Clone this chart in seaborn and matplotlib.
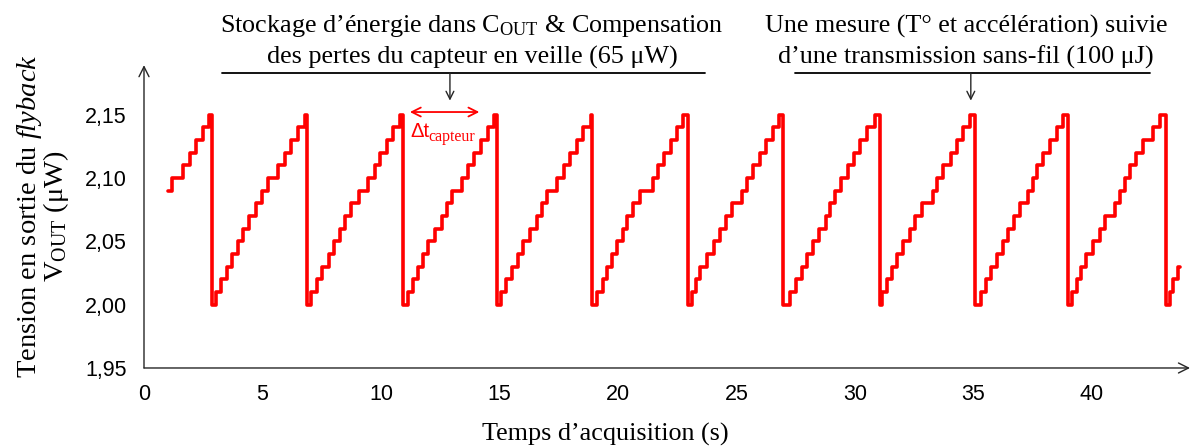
import matplotlib
matplotlib.use("Agg")
import matplotlib.pyplot as plt
import numpy as np
import pandas as pd
import seaborn as sns

# step levels of the flyback output voltage (V)
levels = [2.00, 2.01, 2.02, 2.03, 2.04, 2.05, 2.06, 2.07,
          2.08, 2.09, 2.10, 2.11, 2.12, 2.13, 2.14, 2.15]

# first (partial) ramp: starts at 2,09
start_time = 1.03
start_level = 2.09
first_rises = [1.20, 1.66, 1.94, 2.19, 2.50, 2.76]  # -> 2,10 ... 2,15

# times where the capacitor is emptied (back to 2,00)
drop_times = [2.86, 6.86, 10.93, 14.91, 18.92, 22.94, 26.98, 31.05, 35.06, 39.00, 43.12]

# times of each step up to 2,01 ... 2,15 after each drop
rise_times = [
    [3.04, 3.25, 3.52, 3.71, 3.95, 4.19, 4.44, 4.71, 4.98, 5.23, 5.64, 5.94, 6.19, 6.48, 6.78],
    [7.03, 7.29, 7.52, 7.80, 8.02, 8.27, 8.50, 8.73, 9.06, 9.44, 9.75, 9.96, 10.24, 10.52, 10.80],
    [11.15, 11.34, 11.58, 11.79, 11.99, 12.28, 12.56, 12.77, 12.98, 13.40, 13.69, 13.92, 14.21, 14.53, 14.78],
    [15.05, 15.26, 15.51, 15.80, 16.01, 16.29, 16.57, 16.78, 17.02, 17.41, 17.72, 17.98, 18.26, 18.54, 18.85],
    [19.13, 19.36, 19.53, 19.73, 19.95, 20.22, 20.39, 20.65, 20.93, 21.49, 21.70, 21.94, 22.23, 22.48, 22.73],
    [23.11, 23.29, 23.46, 23.74, 24.05, 24.30, 24.58, 24.80, 25.22, 25.46, 25.71, 25.99, 26.24, 26.53, 26.81],
    [27.26, 27.51, 27.75, 27.99, 28.24, 28.49, 28.78, 28.95, 29.16, 29.40, 29.72, 29.96, 30.21, 30.52, 30.84],
    [31.13, 31.34, 31.55, 31.76, 32.04, 32.32, 32.53, 32.85, 33.28, 33.47, 33.73, 34.04, 34.29, 34.54, 34.85],
    [35.30, 35.52, 35.75, 36.00, 36.25, 36.48, 36.70, 36.95, 37.30, 37.50, 37.70, 37.95, 38.23, 38.51, 38.80],
    [39.14, 39.35, 39.56, 39.77, 40.06, 40.34, 40.55, 40.97, 41.18, 41.39, 41.60, 41.88, 42.17, 42.59, 42.87],
    [43.29, 43.43, 43.64],
]
end_time = 43.71

xticks = [0, 5, 10, 15, 20, 25, 30, 35, 40]
yticks = [1.95, 2.00, 2.05, 2.10, 2.15]
ytick_labels = ["1,95", "2,00", "2,05", "2,10", "2,15"]

# build the staircase as (time, value) breakpoints
t = [start_time] + first_rises
v = [start_level] + levels[10:]
for drop, rises in zip(drop_times, rise_times):
    t += [drop] + rises
    v += levels[:len(rises) + 1]
t.append(end_time)
v.append(v[-1])
df = pd.DataFrame({"t": t, "v": v})

sns.set_theme(style="white")
plt.rcParams["font.family"] = ["Liberation Sans", "DejaVu Sans"]
plt.rcParams["mathtext.fontset"] = "custom"
plt.rcParams["mathtext.rm"] = "Liberation Serif"
plt.rcParams["mathtext.it"] = "Liberation Serif:italic"
serif = ["Liberation Serif", "DejaVu Serif"]
ink = "#262626"

fig = plt.figure(figsize=(11.96, 4.48), dpi=100)
ax = fig.add_axes([0.1204, 0.1786, 0.8746, 0.676])

sns.lineplot(data=df, x="t", y="v", ax=ax, drawstyle="steps-post",
             estimator=None, sort=False, color="#FF0000", lw=2.6)

ax.set_xlim(0, 44.14)
ax.set_ylim(1.95, 2.189)
ax.set_xticks(xticks)
ax.set_xticklabels([str(x) for x in xticks])
ax.set_yticks(yticks)
ax.set_yticklabels(ytick_labels)
ax.tick_params(axis="both", direction="inout", length=7, width=1, color="#555555",
               labelsize=15.5, labelcolor="black")
ax.tick_params(axis="y", pad=9)
ax.tick_params(axis="x", pad=8)
for s in ax.spines.values():
    s.set_visible(False)

# axes with open arrow heads
ax.annotate("", xy=(1, 0), xytext=(0, 0), xycoords="axes fraction",
            arrowprops=dict(arrowstyle="->", color=ink, lw=1, mutation_scale=18,
                            shrinkA=0, shrinkB=0))
ax.annotate("", xy=(0, 1), xytext=(0, 0), xycoords="axes fraction",
            arrowprops=dict(arrowstyle="->", color=ink, lw=1, mutation_scale=18,
                            shrinkA=0, shrinkB=0))

ax.set_xlabel("Temps d’acquisition (s)", family=serif, fontsize=18.8, color="black")
ax.xaxis.set_label_coords(0.4408, -0.182)
ax.set_ylabel("Tension en sortie du $\\it{flyback}$\nV$_{\\mathrm{OUT}}$ (μW)",
              family=serif, fontsize=20.5, color="black", labelpad=10, linespacing=0.85)

# annotations above the curve
ax.text(13.84, 2.186, "Stockage d’énergie dans C$_{\\mathrm{OUT}}$ & Compensation\n"
        "des pertes du capteur en veille (65 μW)",
        family=serif, fontsize=18.8, ha="center", va="bottom", color="black",
        linespacing=1.4, clip_on=False)
ax.plot([3.29, 23.67], [2.1828, 2.1828], color="black", lw=1.3, clip_on=False)
ax.annotate("", xy=(12.91, 2.161), xytext=(12.91, 2.1828),
            arrowprops=dict(arrowstyle="->", color=ink, lw=1, mutation_scale=14,
                            shrinkA=0, shrinkB=0), annotation_clip=False)

ax.text(34.68, 2.186, "Une mesure (T° et accélération) suivie\n"
        "d’une transmission sans-fil (100 μJ)",
        family=serif, fontsize=18.8, ha="center", va="bottom", color="black",
        linespacing=1.4, clip_on=False)
ax.plot([27.47, 42.45], [2.1828, 2.1828], color="black", lw=1.3, clip_on=False)
ax.annotate("", xy=(34.89, 2.161), xytext=(34.89, 2.1828),
            arrowprops=dict(arrowstyle="->", color=ink, lw=1, mutation_scale=14,
                            shrinkA=0, shrinkB=0), annotation_clip=False)

# sensor period arrow
ax.annotate("", xy=(11.22, 2.152), xytext=(14.15, 2.152),
            arrowprops=dict(arrowstyle="<->", color="#FF0000", lw=1.3, mutation_scale=16,
                            shrinkA=0, shrinkB=0))
ax.text(11.22, 2.137, "Δt", fontsize=14.5, color="#FF0000", ha="left", va="center")
ax.text(12.0, 2.132, "capteur", family=serif, fontsize=11.5, color="#FF0000",
        ha="left", va="center")

fig.savefig("out.png", dpi=100)
